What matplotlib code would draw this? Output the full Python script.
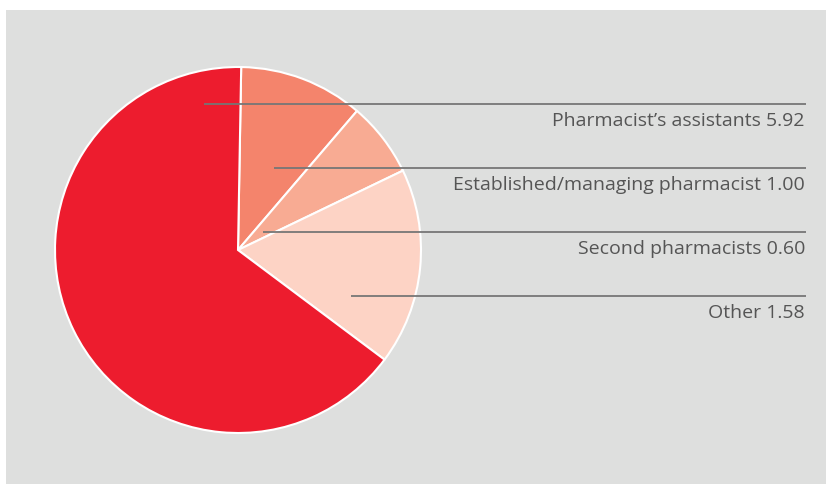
import matplotlib
matplotlib.use("Agg")
import matplotlib.pyplot as plt
from matplotlib.patches import Rectangle

# Data
categories = ["Established/managing pharmacist", "Second pharmacists", "Other", "Pharmacist\u2019s assistants"]
values = [1.00, 0.60, 1.58, 5.92]
colors = ["#F4846C", "#F8AB93", "#FDD3C5", "#ED1C2E"]

# Label order (top to bottom) as shown at right
label_order = [3, 0, 1, 2]

plt.rcParams['font.family'] = ['Open Sans', 'DejaVu Sans']

W, H = 826, 484
fig = plt.figure(figsize=(W / 100, H / 100), dpi=100, facecolor="white")
ax = fig.add_axes([0, 0, 1, 1])
ax.set_xlim(0, W)
ax.set_ylim(H, 0)
ax.set_aspect("equal")
ax.axis("off")

ax.add_patch(Rectangle((6, 10), W - 6, H - 10, facecolor="#DEDFDE", edgecolor="none", zorder=0))

cx, cy, r = 238, 250, 183
# y axis is inverted, so counterclock=True in data coords appears clockwise on screen
ax.pie(values, colors=colors, startangle=-89, counterclock=True, center=(cx, cy), radius=r,
       wedgeprops=dict(edgecolor="white", linewidth=1.5), frame=True)
ax.set_xlim(0, W)
ax.set_ylim(H, 0)
ax.axis("off")

line_starts = [(204, 104), (274, 168), (263, 232), (351, 296)]
x_end = 806
for (xs, ys), idx in zip(line_starts, label_order):
    ax.plot([xs, x_end], [ys, ys], color="#767676", linewidth=1.3, solid_capstyle="butt", zorder=5)
    ax.text(x_end - 1, ys + 22, f"{categories[idx]} {values[idx]:.2f}", ha="right", va="baseline",
            fontsize=14, color="#555555", zorder=6)

fig.savefig("out.png", dpi=100, facecolor="white")
